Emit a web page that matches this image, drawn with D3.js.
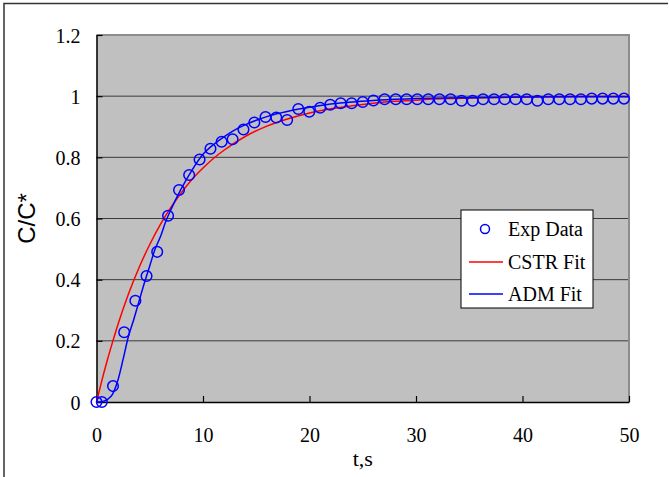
<!DOCTYPE html>
<html>
<head>
<meta charset="utf-8">
<script src="https://cdn.jsdelivr.net/npm/d3@7"></script>
<style>
  html, body { margin: 0; padding: 0; background: #fff; }
  svg { display: block; }
</style>
</head>
<body>
<svg id="chart" width="669" height="477"></svg>
<script>
// Tracer response: measured points and two model fits
const expT = [0, 0.5, 1.55, 2.6, 3.65, 4.7, 5.7, 6.72, 7.75, 8.7, 9.68, 10.7, 11.75, 12.78, 13.8,
  14.82, 15.87, 16.88, 17.9, 18.95, 19.98, 21.0, 21.95, 22.93, 23.96, 25.0, 26.0, 27.05, 28.1,
  29.12, 30.12, 31.15, 32.2, 33.25, 34.28, 35.32, 36.3, 37.33, 38.33, 39.35, 40.4, 41.4, 42.42,
  43.45, 44.46, 45.48, 46.5, 47.52, 48.53, 49.53];
const expC = [0, 0, 0.052, 0.228, 0.331, 0.412, 0.491, 0.609, 0.693, 0.742, 0.793, 0.828, 0.851,
  0.859, 0.891, 0.914, 0.932, 0.93, 0.922, 0.958, 0.949, 0.962, 0.972, 0.977, 0.977, 0.981, 0.986,
  0.99, 0.99, 0.99, 0.99, 0.99, 0.99, 0.99, 0.985, 0.985, 0.99, 0.99, 0.99, 0.99, 0.99, 0.985,
  0.99, 0.99, 0.99, 0.99, 0.992, 0.992, 0.992, 0.992];

const cstrT = [0, 0.5, 1, 1.5, 2, 3, 4, 5, 6, 7, 8, 9, 10, 11, 12, 14, 16, 18, 20, 22, 24, 26, 28,
  30, 33, 36, 40, 45, 50];
const cstrC = [0, 0.070, 0.135, 0.195, 0.252, 0.353, 0.440, 0.515, 0.581, 0.637, 0.686, 0.729,
  0.765, 0.797, 0.824, 0.869, 0.902, 0.926, 0.945, 0.959, 0.969, 0.977, 0.983, 0.987, 0.992,
  0.995, 0.997, 0.999, 0.999];

const admT = [0, 0.5, 1, 1.5, 2, 2.5, 3, 3.5, 4, 4.5, 5, 5.5, 6, 6.5, 7, 8, 9, 10, 11, 12, 13, 14,
  15, 16, 17, 18, 19, 20, 22, 24, 26, 28, 30, 35, 40, 45, 50];
const admC = [0, 0.001, 0.008, 0.025, 0.07, 0.14, 0.215, 0.27, 0.33, 0.39, 0.445, 0.5, 0.54,
  0.59, 0.63, 0.70, 0.76, 0.81, 0.842, 0.868, 0.89, 0.907, 0.921, 0.933, 0.943, 0.951, 0.958,
  0.964, 0.974, 0.981, 0.986, 0.99, 0.992, 0.995, 0.997, 0.998, 0.998];

const xTicks = [0, 10, 20, 30, 40, 50];
const yTicks = [0, 0.2, 0.4, 0.6, 0.8, 1, 1.2];
const legendLabels = ["Exp Data", "CSTR Fit", "ADM Fit"];

const svg = d3.select("#chart");
const serif = "'Liberation Serif', 'Times New Roman', serif";
const sans = "'Liberation Sans', Arial, sans-serif";

const x = d3.scaleLinear().domain([0, 50]).range([96.5, 629]);
const y = d3.scaleLinear().domain([0, 1.2]).range([402, 35]);

// outer frame (left and top edges visible)
svg.append("path")
  .attr("d", "M4,477 L4,3.5 L668,3.5")
  .attr("fill", "none").attr("stroke", "#333").attr("stroke-width", 1.5);

// plot area
svg.append("rect")
  .attr("x", x(0)).attr("y", y(1.2))
  .attr("width", x(50) - x(0)).attr("height", y(0) - y(1.2))
  .attr("fill", "#c0c0c0");

// horizontal gridlines
svg.append("g").selectAll("line")
  .data(yTicks.filter(d => d > 0 && d < 1.2))
  .join("line")
  .attr("x1", x(0)).attr("x2", x(50))
  .attr("y1", d => y(d)).attr("y2", d => y(d))
  .attr("stroke", "#3a3a3a").attr("stroke-width", 1);

// top and right plot border
svg.append("path")
  .attr("d", `M${x(0)},${y(1.2)} L${x(50)},${y(1.2)} L${x(50)},${y(0)}`)
  .attr("fill", "none").attr("stroke", "#8c8c8c").attr("stroke-width", 2);

// axes with inward ticks
const xAxis = d3.axisBottom(x).tickValues(xTicks).tickSizeInner(-6).tickSizeOuter(0)
  .tickPadding(26).tickFormat(d3.format("d"));
const gx = svg.append("g").attr("transform", `translate(0,${y(0)})`).call(xAxis);
const yAxis = d3.axisLeft(y).tickValues(yTicks).tickSizeInner(-6).tickSizeOuter(0)
  .tickPadding(16).tickFormat(d => d3.format("")(d));
const gy = svg.append("g").attr("transform", `translate(${x(0)},0)`).call(yAxis);

[gx, gy].forEach(g => {
  g.select(".domain").attr("stroke", "#000").attr("stroke-width", 1.5);
  g.selectAll(".tick line").attr("stroke", "#000").attr("stroke-width", 1.2);
  g.selectAll(".tick text").attr("font-family", serif).attr("font-size", 20).attr("fill", "#000");
});
gy.selectAll(".tick text").attr("dy", "0.35em");
gx.selectAll(".tick text").attr("dy", "0.71em");

// axis titles
svg.append("text")
  .attr("x", (x(0) + x(50)) / 2).attr("y", 466)
  .attr("text-anchor", "middle")
  .attr("font-family", serif).attr("font-size", 22).attr("fill", "#000")
  .text("t,s");
svg.append("text")
  .attr("transform", `translate(35,${(y(0) + y(1.2)) / 2}) rotate(-90)`)
  .attr("text-anchor", "middle")
  .attr("font-family", sans).attr("font-size", 24).attr("fill", "#000")
  .text("C/C*");

// fitted curves
const line = d3.line().x(d => x(d[0])).y(d => y(d[1]));
svg.append("path")
  .datum(cstrT.map((t, i) => [t, cstrC[i]]))
  .attr("d", line.curve(d3.curveMonotoneX))
  .attr("fill", "none").attr("stroke", "#ff0000").attr("stroke-width", 1.5);
svg.append("path")
  .datum(admT.map((t, i) => [t, admC[i]]))
  .attr("d", d3.line().x(d => x(d[0])).y(d => y(d[1])).curve(d3.curveMonotoneX))
  .attr("fill", "none").attr("stroke", "#0000ff").attr("stroke-width", 1.5);

// measured data
svg.append("g").selectAll("circle")
  .data(expT.map((t, i) => [t, expC[i]]))
  .join("circle")
  .attr("cx", d => x(d[0])).attr("cy", d => y(d[1])).attr("r", 5.3)
  .attr("fill", "none").attr("stroke", "#0000ff").attr("stroke-width", 1.5);

// legend
const lg = svg.append("g").attr("transform", "translate(461,210)");
lg.append("rect").attr("width", 132).attr("height", 98)
  .attr("fill", "#fff").attr("stroke", "#000").attr("stroke-width", 1);
const rows = [19, 52, 84];
lg.append("circle").attr("cx", 24).attr("cy", rows[0]).attr("r", 4.5)
  .attr("fill", "none").attr("stroke", "#0000ff").attr("stroke-width", 1.5);
lg.append("line").attr("x1", 8).attr("x2", 42).attr("y1", rows[1]).attr("y2", rows[1])
  .attr("stroke", "#ff0000").attr("stroke-width", 1.5);
lg.append("line").attr("x1", 8).attr("x2", 42).attr("y1", rows[2]).attr("y2", rows[2])
  .attr("stroke", "#0000ff").attr("stroke-width", 1.5);
lg.selectAll("text.lbl").data(legendLabels).join("text")
  .attr("class", "lbl")
  .attr("x", 47).attr("y", (d, i) => rows[i]).attr("dy", "0.35em")
  .attr("font-family", serif).attr("font-size", 20).attr("fill", "#000")
  .text(d => d);
</script>
</body>
</html>
